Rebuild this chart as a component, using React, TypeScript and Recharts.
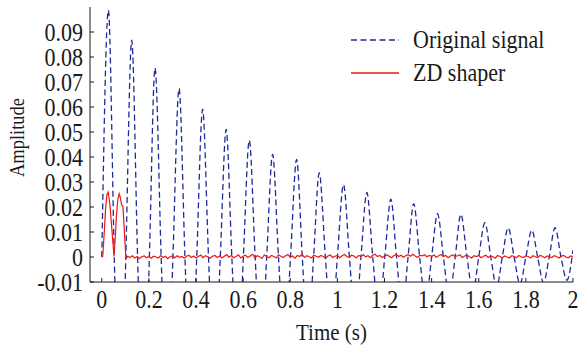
import { Legend, Line, LineChart, XAxis, YAxis } from "recharts";

// dashed "Original signal": [time (s), amplitude] at peaks, zero crossings and troughs
const originalSignal: [number, number][] = [
  [0.0, 0.0],
  [0.028, 0.0987], [0.053, 0], [0.078, -0.088], [0.102, 0],
  [0.127, 0.0867], [0.152, 0], [0.177, -0.078], [0.202, 0],
  [0.226, 0.0756], [0.252, 0], [0.277, -0.069], [0.302, 0],
  [0.328, 0.0674], [0.353, 0], [0.378, -0.061], [0.403, 0],
  [0.428, 0.0591], [0.453, 0], [0.478, -0.053], [0.503, 0],
  [0.528, 0.051], [0.552, 0], [0.577, -0.047], [0.601, 0],
  [0.626, 0.0467], [0.651, 0], [0.676, -0.042], [0.7, 0],
  [0.725, 0.041], [0.75, 0], [0.776, -0.038], [0.801, 0],
  [0.827, 0.039], [0.851, 0], [0.875, -0.034], [0.899, 0],
  [0.923, 0.0336], [0.949, 0], [0.975, -0.03], [1.0, 0],
  [1.026, 0.029], [1.051, 0], [1.076, -0.026], [1.1, 0],
  [1.125, 0.0258], [1.15, 0], [1.176, -0.023], [1.201, 0],
  [1.227, 0.0231], [1.251, 0], [1.276, -0.021], [1.3, 0],
  [1.324, 0.0213], [1.349, 0], [1.375, -0.018], [1.4, 0],
  [1.425, 0.0173], [1.45, 0], [1.475, -0.016], [1.5, 0],
  [1.524, 0.0171], [1.55, 0], [1.575, -0.014], [1.6, 0],
  [1.626, 0.0137], [1.651, 0], [1.676, -0.012], [1.7, 0],
  [1.725, 0.0117], [1.75, 0], [1.775, -0.0108], [1.8, 0],
  [1.825, 0.0107], [1.85, 0], [1.875, -0.0103], [1.899, 0],
  [1.924, 0.0117], [1.949, 0], [1.974, -0.0093], [2.0, 0.0027],
];

// ZD shaper: the two humps at the start
const shaperPulse: [number, number][] = [
  [0.0, 0.0], [0.004, 0.0002], [0.01, 0.009], [0.016, 0.019], [0.022, 0.025],
  [0.027, 0.026], [0.031, 0.0235], [0.035, 0.0205], [0.042, 0.012], [0.048, 0.005],
  [0.052, 0.0002], [0.056, 0.006], [0.062, 0.016], [0.068, 0.023], [0.074, 0.0253],
  [0.078, 0.024], [0.084, 0.021], [0.09, 0.02], [0.096, 0.01], [0.102, 0.0003],
  [0.106, -0.0003],
];

// ZD shaper residual, every 0.01 s from 0.11 s to 2.00 s
const noiseStart = 0.11;
const noiseStep = 0.01;
const shaperNoise = [
  0.0003, -0.0002, 0.0005, -0.0004, 0.0002, -0.0006, 0.0001, 0.0004, -0.0003, 0.0002,
  -0.0005, 0.0003, 0.0, -0.0004, 0.0006, -0.0002, 0.0003, -0.0007, 0.0001, 0.0004,
  -0.0003, 0.0005, -0.0001, 0.0002, -0.0005, 0.0003, 0.0007, -0.0002, 0.0004, -0.0004,
  0.0002, 0.0008, -0.0003, 0.0005, 0.0001, -0.0005, 0.0003, 0.0006, -0.0002, 0.0004,
  -0.0004, 0.0003, 0.001, -0.0001, 0.0006, -0.0003, 0.0002, 0.0009, -0.0004, 0.0003,
  0.0007, -0.0002, 0.0004, 0.0011, -0.0003, 0.0005, 0.0001, -0.0006, 0.0008, 0.0002,
  -0.0003, 0.0006, 0.0002, -0.0004, 0.0009, 0.0003, -0.0002, 0.0005, 0.001, -0.0001,
  0.0004, -0.0005, 0.0006, 0.0002, 0.0011, -0.0002, 0.0005, 0.0001, -0.0004, 0.0007,
  0.0003, -0.0001, 0.0006, 0.0002, -0.0005, 0.0004, 0.0008, -0.0002, 0.0003, 0.0006,
  -0.0003, 0.0005, 0.001, 0.0002, -0.0002, 0.0007, 0.0004, -0.0004, 0.0006, 0.0003,
  0.0009, 0.0001, 0.0005, -0.0003, 0.0007, 0.0011, 0.0002, 0.0006, -0.0002, 0.0004,
  0.0008, 0.0003, -0.0003, 0.0006, 0.001, 0.0002, 0.0007, -0.0001, 0.0005, 0.0009,
  0.0003, 0.0011, 0.0004, -0.0002, 0.0007, 0.0005, 0.0009, 0.0001, 0.0006, 0.0003,
  0.0008, -0.0001, 0.0005, 0.001, 0.0002, 0.0006, -0.0003, 0.0004, 0.0008, 0.0002,
  0.0005, 0.0009, -0.0002, 0.0004, 0.0007, 0.0001, -0.0004, 0.0005, 0.0002, 0.0006,
  -0.0003, 0.0003, 0.0007, -0.0002, 0.0004, 0.0001, -0.0005, 0.0006, 0.0002, -0.0003,
  0.0004, 0.0, -0.0004, 0.0005, 0.0002, -0.0003, 0.0006, 0.0001, -0.0002, 0.0004,
  0.0002, -0.0004, 0.0005, 0.0001, -0.0002, 0.0006, 0.0003, -0.0003, 0.0004, 0.0001,
  -0.0002, 0.0005, 0.0002, -0.0004, 0.0003, 0.0006, 0.0, -0.0003, 0.0004, 0.0002,
];

const xTicks = [0, 0.2, 0.4, 0.6, 0.8, 1, 1.2, 1.4, 1.6, 1.8, 2];
const yTicks = [-0.01, 0, 0.01, 0.02, 0.03, 0.04, 0.05, 0.06, 0.07, 0.08, 0.09];
const xDomain = [-0.05, 2];
const yDomain = [-0.01, 0.1];

const originalData = originalSignal.map(([t, v]) => ({ t, v }));
const shaperData = [
  ...shaperPulse.map(([t, v]) => ({ t, v })),
  ...shaperNoise.map((v, i) => ({ t: +(noiseStart + i * noiseStep).toFixed(3), v })),
];

const FONT = '"Liberation Serif", "Times New Roman", serif';
const INK = "#1a1a1a";
const BLUE = "#1f2a9a";
const RED = "#ee1515";
// the source figure's lettering is a little taller than it is wide
const STRETCH = 1.1;

function XTick({ x, y, payload }: any) {
  return (
    <text
      transform={`translate(${x} ${y}) scale(1 ${STRETCH})`}
      dy="0.71em"
      textAnchor="middle"
      fill={INK}
      fontFamily={FONT}
      fontSize={22}
    >
      {String(payload.value)}
    </text>
  );
}

function YTick({ x, y, payload }: any) {
  return (
    <text
      transform={`translate(${x} ${y}) scale(1 ${STRETCH})`}
      dy="0.355em"
      textAnchor="end"
      fill={INK}
      fontFamily={FONT}
      fontSize={22}
    >
      {String(payload.value)}
    </text>
  );
}

function LegendBox({ payload }: any) {
  const items = (payload || []).filter((p: any) => p.type !== "none");
  return (
    <div style={{ fontFamily: FONT, fontSize: 22, color: INK }}>
      {items.map((p: any) => (
        <div key={p.value} style={{ display: "flex", alignItems: "center", height: 33 }}>
          <svg width={48} height={4} style={{ display: "block" }}>
            <line
              x1={0}
              x2={48}
              y1={2}
              y2={2}
              stroke={p.color}
              strokeWidth={1.3}
              strokeDasharray={p.payload?.strokeDasharray}
            />
          </svg>
          <span
            style={{
              marginLeft: 14,
              lineHeight: "33px",
              whiteSpace: "nowrap",
              display: "inline-block",
              transform: `scaleY(${STRETCH})`,
            }}
          >
            {p.value}
          </span>
        </div>
      ))}
    </div>
  );
}

function AmplitudeLabel({ viewBox }: any) {
  const x = viewBox.x + 17;
  const y = viewBox.y + viewBox.height / 2 - 7;
  return (
    <text
      transform={`translate(${x} ${y}) rotate(-90) scale(1 1.15)`}
      textAnchor="middle"
      dominantBaseline="central"
      fill={INK}
      fontFamily={FONT}
      fontSize={18.5}
    >
      Amplitude
    </text>
  );
}

function TimeLabel({ viewBox }: any) {
  const x = viewBox.x + viewBox.width / 2;
  const y = 340;
  return (
    <text
      transform={`translate(${x} ${y}) scale(1 ${STRETCH})`}
      textAnchor="middle"
      fill={INK}
      fontFamily={FONT}
      fontSize={21}
    >
      Time (s)
    </text>
  );
}

export default function App() {
  return (
    <div style={{ position: "absolute", left: 0, top: 0, width: 579, height: 347, background: "#fff" }}>
      <LineChart width={579} height={347} margin={{ top: 7, right: 6, bottom: 0, left: 0 }}>
        <XAxis
          dataKey="t"
          type="number"
          domain={xDomain}
          ticks={xTicks}
          interval={0}
          allowDataOverflow
          height={65}
          tickSize={-4}
          tickMargin={12.5}
          stroke={INK}
          tick={<XTick />}
          label={<TimeLabel />}
        />
        <XAxis
          xAxisId="top"
          orientation="top"
          dataKey="t"
          type="number"
          domain={xDomain}
          ticks={xTicks}
          interval={0}
          allowDataOverflow
          height={0}
          tickSize={-4}
          tick={false}
          stroke={INK}
        />
        <YAxis
          type="number"
          domain={yDomain}
          ticks={yTicks}
          interval={0}
          allowDataOverflow
          width={90}
          tickSize={-4}
          tickMargin={11}
          stroke={INK}
          tick={<YTick />}
          label={<AmplitudeLabel />}
        />
        <YAxis
          yAxisId="right"
          orientation="right"
          type="number"
          domain={yDomain}
          ticks={yTicks}
          interval={0}
          allowDataOverflow
          width={0}
          tickSize={-4}
          tick={false}
          stroke={INK}
        />
        <Legend
          layout="vertical"
          align="center"
          verticalAlign="middle"
          wrapperStyle={{ left: 351, top: 23, width: 220 }}
          content={<LegendBox />}
        />
        <Line
          data={originalData}
          dataKey="v"
          name="Original signal"
          type="monotone"
          stroke={BLUE}
          strokeWidth={1.3}
          strokeDasharray="6 3.5"
          dot={false}
          activeDot={false}
          isAnimationActive={false}
        />
        <Line
          data={shaperData}
          dataKey="v"
          name="ZD shaper"
          type="linear"
          stroke={RED}
          strokeWidth={1.2}
          dot={false}
          activeDot={false}
          isAnimationActive={false}
        />
        <Line
          data={shaperData}
          dataKey="v"
          xAxisId="top"
          yAxisId="right"
          legendType="none"
          stroke="none"
          dot={false}
          activeDot={false}
          isAnimationActive={false}
        />
      </LineChart>
    </div>
  );
}
